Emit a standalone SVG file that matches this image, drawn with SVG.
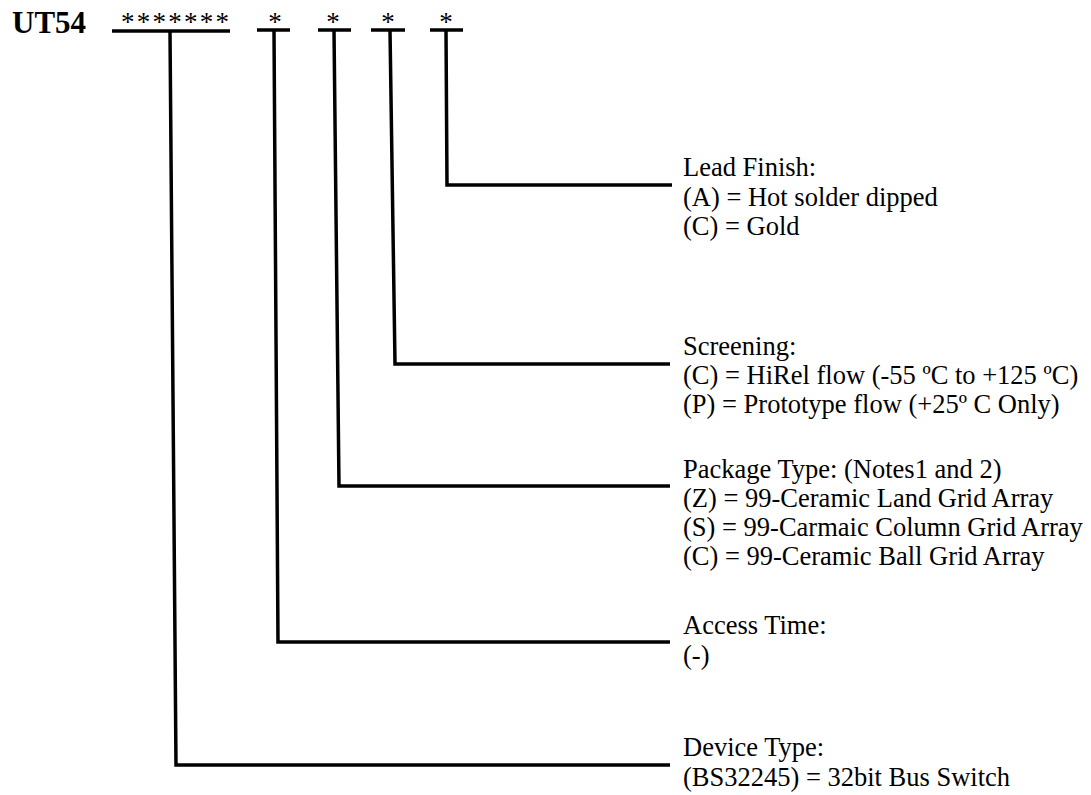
<svg xmlns="http://www.w3.org/2000/svg" width="1091" height="795" viewBox="0 0 1091 795">
<style>
.t{font-family:"Liberation Serif","Times New Roman",serif;font-size:26.5px;fill:#000}
.ttl{font-family:"Liberation Serif","Times New Roman",serif;font-size:31px;font-weight:bold;fill:#000}
.ast{font-family:"Liberation Serif","Times New Roman",serif;font-size:27px;fill:#000}
.ln{fill:none;stroke:#000;stroke-width:3.5;stroke-linejoin:miter}
</style>
<rect width="1091" height="795" fill="#fff"/>
<g id="header">
<text class="ttl" x="12" y="33">UT54</text>
<text class="ast" x="121" y="31" textLength="108" lengthAdjust="spacing">*******</text>
<text class="ast" x="275" y="31" text-anchor="middle">*</text>
<text class="ast" x="333" y="31" text-anchor="middle">*</text>
<text class="ast" x="388" y="31" text-anchor="middle">*</text>
<text class="ast" x="446" y="31" text-anchor="middle">*</text>
</g>
<g id="connectors">
<line class="ln" x1="112" y1="31" x2="230" y2="31"/>
<line class="ln" x1="257" y1="30" x2="290" y2="30"/>
<line class="ln" x1="318" y1="30" x2="351" y2="30"/>
<line class="ln" x1="371" y1="30" x2="405" y2="30"/>
<line class="ln" x1="430" y1="30" x2="463" y2="30"/>
<polyline class="ln" points="170,31 176,765 670,765"/>
<polyline class="ln" points="274,30 278,642 670,642"/>
<polyline class="ln" points="334,30 339,486 670,486"/>
<polyline class="ln" points="390,30 395,364 670,364"/>
<polyline class="ln" points="446,30 447,185 672,185"/>
</g>
<g id="lead-finish">
<text class="t" x="683" y="176">Lead Finish:</text>
<text class="t" x="683" y="206">(A) = Hot solder dipped</text>
<text class="t" x="683" y="235">(C) = Gold</text>
</g>
<g id="screening">
<text class="t" x="683" y="355">Screening:</text>
<text class="t" x="683" y="384">(C) = HiRel flow (-55 ºC to +125 ºC)</text>
<text class="t" x="683" y="413">(P) = Prototype flow (+25º C Only)</text>
</g>
<g id="package-type">
<text class="t" x="683" y="478">Package Type: (Notes1 and 2)</text>
<text class="t" x="683" y="507">(Z) = 99-Ceramic Land Grid Array</text>
<text class="t" x="683" y="536">(S) = 99-Carmaic Column Grid Array</text>
<text class="t" x="683" y="565">(C) = 99-Ceramic Ball Grid Array</text>
</g>
<g id="access-time">
<text class="t" x="683" y="634">Access Time:</text>
<text class="t" x="683" y="664">(-)</text>
</g>
<g id="device-type">
<text class="t" x="683" y="756">Device Type:</text>
<text class="t" x="683" y="786">(BS32245) = 32bit Bus Switch</text>
</g>
</svg>
